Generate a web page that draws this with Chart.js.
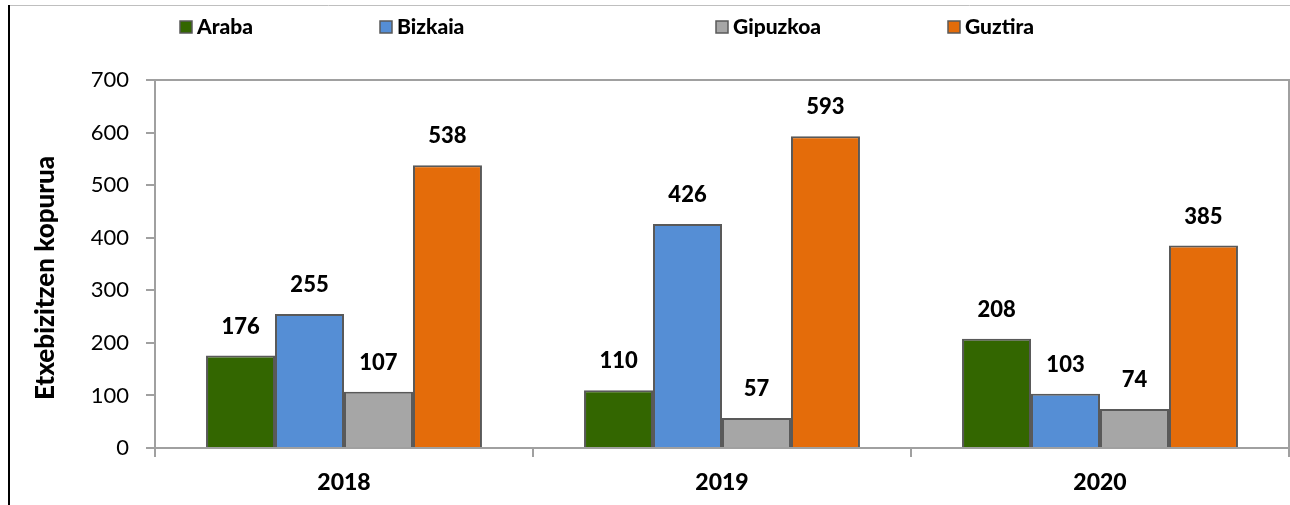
<!DOCTYPE html>
<html>
<head>
<meta charset="utf-8">
<script src="https://cdn.jsdelivr.net/npm/chart.js@4"></script>
<style>
  html, body { margin: 0; padding: 0; background: #fff; }
  #wrap { width: 1290px; height: 505px; }
</style>
</head>
<body>
<div id="wrap"><canvas id="chart" width="1290" height="505"></canvas></div>
<script>
const years = ["2018", "2019", "2020"];
const araba = [176, 110, 208];
const bizkaia = [255, 426, 103];
const gipuzkoa = [107, 57, 74];
const guztira = [538, 593, 385];
const seriesNames = ["Araba", "Bizkaia", "Gipuzkoa", "Guztira"];
const seriesColors = ["#336600", "#558ED5", "#A6A6A6", "#E46C0A"];
const yMax = 700;
const yStep = 100;
const yTitle = "Etxebizitzen kopurua";

const FONT = "Lato, 'Open Sans', sans-serif";
const legendX = [180, 380, 716, 948];

// marco: linea gris arriba y negra a la izquierda
const framePlugin = {
    id: "frame",
    beforeDraw(chart) {
        const ctx = chart.ctx;
        ctx.save();
        ctx.fillStyle = "#fff";
        ctx.fillRect(0, 0, chart.width, chart.height);
        ctx.strokeStyle = "#BFBFBF";
        ctx.lineWidth = 1;
        ctx.beginPath();
        ctx.moveTo(8, 5.5);
        ctx.lineTo(chart.width, 5.5);
        ctx.stroke();
        ctx.strokeStyle = "#000";
        ctx.lineWidth = 2;
        ctx.beginPath();
        ctx.moveTo(9, 5);
        ctx.lineTo(9, chart.height);
        ctx.stroke();
        ctx.restore();
    },
    afterDatasetsDraw(chart) {
        // borde del area de trazado (arriba y derecha)
        const a = chart.chartArea;
        const ctx = chart.ctx;
        ctx.save();
        ctx.strokeStyle = "#A0A0A0";
        ctx.lineWidth = 2;
        ctx.beginPath();
        ctx.moveTo(a.left, a.top);
        ctx.lineTo(a.right, a.top);
        ctx.lineTo(a.right, a.bottom + 9);
        ctx.stroke();
        ctx.restore();
    }
};

// leyenda propia + titulo del eje y
const legendPlugin = {
    id: "myLegend",
    afterDraw(chart) {
        const ctx = chart.ctx;
        ctx.save();
        ctx.font = "900 21px " + FONT;
        ctx.textBaseline = "middle";
        chart.data.datasets.forEach((ds, i) => {
            const x = legendX[i];
            ctx.fillStyle = ds.backgroundColor;
            ctx.fillRect(x, 21, 12, 12);
            ctx.strokeStyle = "#595959";
            ctx.lineWidth = 1.5;
            ctx.strokeRect(x, 21, 12, 12);
            ctx.fillStyle = "#000";
            ctx.fillText(ds.label, x + 17, 27);
        });

        ctx.translate(46, 278);
        ctx.rotate(-Math.PI / 2);
        ctx.font = "900 26px " + FONT;
        ctx.textAlign = "center";
        ctx.fillText(yTitle, 0, 0);
        ctx.restore();
    }
};

// etiquetas de valores
const valuePlugin = {
    id: "values",
    afterDatasetsDraw(chart) {
        const ctx = chart.ctx;
        ctx.save();
        ctx.font = "900 22px " + FONT;
        ctx.fillStyle = "#000";
        ctx.textAlign = "center";
        ctx.textBaseline = "middle";
        chart.data.datasets.forEach((ds, i) => {
            chart.getDatasetMeta(i).data.forEach((bar, j) => {
                ctx.fillText(ds.data[j], bar.x, bar.y - 29);
            });
        });
        ctx.restore();
    }
};

const seriesData = [araba, bizkaia, gipuzkoa, guztira];

new Chart(document.getElementById("chart"), {
    type: "bar",
    data: {
        labels: years,
        datasets: seriesNames.map((name, i) => ({
            label: name,
            data: seriesData[i],
            backgroundColor: seriesColors[i],
            borderColor: "#595959",
            borderWidth: 2,
            categoryPercentage: 0.73,
            barPercentage: 1
        }))
    },
    options: {
        responsive: false,
        animation: false,
        layout: { padding: { top: 80, right: 1, left: 0, bottom: 0 } },
        plugins: {
            legend: { display: false },
            tooltip: { enabled: false }
        },
        scales: {
            x: {
                offset: true,
                grid: {
                    offset: true,
                    drawOnChartArea: false,
                    tickLength: 9,
                    color: "#A0A0A0",
                    lineWidth: 2
                },
                border: { color: "#A0A0A0", width: 2 },
                ticks: {
                    color: "#000",
                    font: { family: FONT, size: 23, weight: "900" },
                    padding: 12
                },
                afterFit(scale) { scale.height = 57; }
            },
            y: {
                min: 0,
                max: yMax,
                ticks: {
                    stepSize: yStep,
                    color: "#000",
                    font: { family: FONT, size: 22 },
                    padding: 17
                },
                grid: {
                    drawOnChartArea: false,
                    tickLength: 9,
                    color: "#A0A0A0",
                    lineWidth: 2
                },
                border: { color: "#A0A0A0", width: 2 },
                afterFit(scale) { scale.width = 155; }
            }
        }
    },
    plugins: [framePlugin, legendPlugin, valuePlugin]
});
</script>
</body>
</html>
